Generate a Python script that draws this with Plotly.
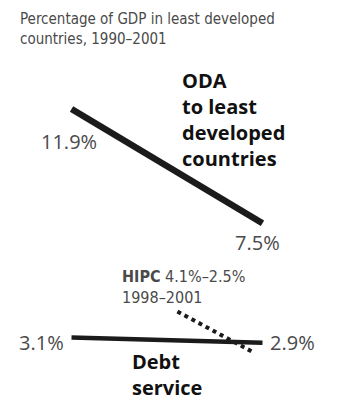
import plotly.graph_objects as go

# ---- data ----
years = [1990, 2001]
oda_pct = [11.9, 7.5]
debt_pct = [3.1, 2.9]
hipc_x = [1996.1, 2000.55]      # horizontal placement as drawn in the source
hipc_pct = [4.1, 2.5]
hipc_period = "1998–2001"
title_lines = ["Percentage of GDP in least developed", "countries, 1990–2001"]
oda_label = ["ODA", "to least", "developed", "countries"]
debt_label = ["Debt", "service"]

W, H = 338, 415
INK = "#1b1b1b"
GREY = "#4a4a4a"
NARROW = "Liberation Sans Narrow, DejaVu Sans Condensed, Arial Narrow, sans-serif"
SANS = "Open Sans, Liberation Sans, sans-serif"

def px(x):
    return x / W

def py(y):
    return 1 - y / H

fig = go.Figure()
fig.add_trace(go.Scatter(x=years, y=oda_pct, mode="lines",
                         line=dict(color=INK, width=6.5), hoverinfo="skip"))
fig.add_trace(go.Scatter(x=years, y=debt_pct, mode="lines",
                         line=dict(color=INK, width=4.5), hoverinfo="skip"))
fig.add_trace(go.Scatter(x=hipc_x, y=hipc_pct, mode="lines",
                         line=dict(color=INK, width=4, dash="dot"), hoverinfo="skip"))

ann = []
def text(t, x, y, size, color, family, xanchor="left"):
    ann.append(dict(text=t, x=px(x), y=py(y), xref="paper", yref="paper",
                    xanchor=xanchor, yanchor="middle", align="left", showarrow=False,
                    font=dict(size=size, color=color, family=family)))

# title
text("<br>".join(title_lines), 18, 28.5, 15, GREY, NARROW)

# ODA label
text("<br>".join(f"<b>{t}</b>" for t in oda_label), 180, 119.5, 20, "#111111", SANS)

# value labels
text(f"{oda_pct[0]}%", 98.5, 141, 20, GREY, SANS, "right")
text(f"{oda_pct[1]}%", 282, 242, 20, GREY, SANS, "right")
text(f"{debt_pct[0]}%", 65.5, 342, 20, GREY, SANS, "right")
text(f"{debt_pct[1]}%", 267.5, 342, 20, GREY, SANS)

# HIPC label
text(f"<b>HIPC</b> {hipc_pct[0]}%–{hipc_pct[1]}%<br>{hipc_period}", 120, 287, 16, GREY, NARROW)

# Debt service label
text("<br>".join(f"<b>{t}</b>" for t in debt_label), 130, 374, 20, "#111111", SANS)

fig.update_layout(
    width=W, height=H,
    margin=dict(l=0, r=0, t=0, b=0),
    paper_bgcolor="white", plot_bgcolor="white",
    showlegend=False,
    xaxis=dict(range=[1985.88, 2005.35], visible=False, fixedrange=True),
    yaxis=dict(range=[0.113, 16.099], visible=False, fixedrange=True),
    annotations=ann,
)
fig.write_html("out.html", config={"displayModeBar": False},
               post_script="document.body.style.margin='0';document.body.style.overflow='hidden';")
